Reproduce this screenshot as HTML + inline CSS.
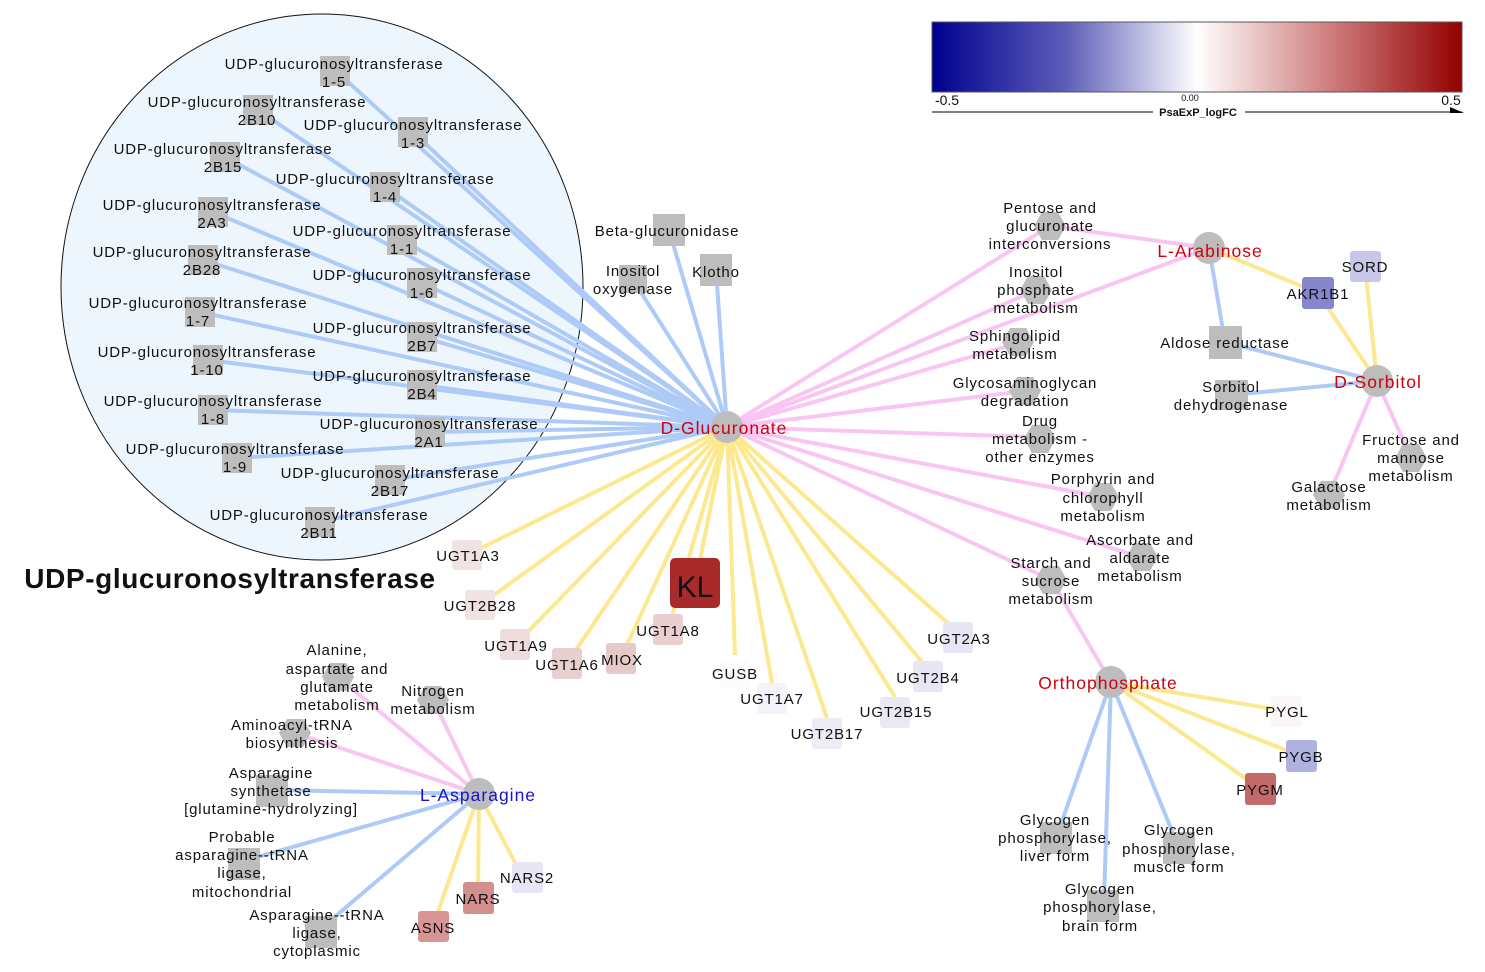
<!DOCTYPE html>
<html><head><meta charset="utf-8"><style>
html,body{margin:0;padding:0;background:#fff;}
svg{display:block;}
text{font-family:"Liberation Sans",sans-serif;font-size:15px;fill:#111;text-anchor:middle;letter-spacing:0.85px;}
.b line{stroke:#aecbf7;stroke-width:4;}
.y line{stroke:#fde890;stroke-width:4;}
.p line{stroke:#f9c6f2;stroke-width:4;}
.sq{fill:#bdbdbd;}
.red{fill:#d00010;font-size:17.5px;letter-spacing:1px;}
.blu{fill:#1a10d0;font-size:17.5px;letter-spacing:1px;}
</style></head><body>
<svg width="1485" height="972" viewBox="0 0 1485 972" xmlns="http://www.w3.org/2000/svg">
<defs>
<linearGradient id="cb" x1="0" x2="1" y1="0" y2="0">
<stop offset="0" stop-color="#00008f"/><stop offset="0.25" stop-color="#5c5cb8"/><stop offset="0.5" stop-color="#ffffff"/><stop offset="0.75" stop-color="#cf7e7e"/><stop offset="1" stop-color="#930000"/>
</linearGradient>
<polygon id="hx" points="16,0 8,14 -8,14 -16,0 -8,-14 8,-14" fill="#bdbdbd"/>
</defs>

<rect x="932" y="22" width="530" height="70" fill="url(#cb)" stroke="#555" stroke-width="1"/>
<text x="947" y="105" style="font-size:14px;letter-spacing:0">-0.5</text>
<text x="1190" y="101" style="font-size:9px;letter-spacing:0">0.00</text>
<text x="1451" y="105" style="font-size:14px;letter-spacing:0">0.5</text>
<line x1="932" y1="112" x2="1153" y2="112" stroke="#000"/>
<line x1="1245" y1="112" x2="1462" y2="112" stroke="#000"/>
<polygon points="1450,107 1464,113 1450,113" fill="#000"/>
<text x="1198" y="116" style="font-size:11px;font-weight:bold;letter-spacing:0">PsaExP_logFC</text>

<ellipse cx="322" cy="287" rx="261" ry="273" fill="#eef6fd" stroke="#111" stroke-width="1"/>
<text x="230" y="588" style="font-size:28px;font-weight:bold;letter-spacing:0.6px">UDP-glucuronosyltransferase</text>

<g class="b">
<line x1="727" y1="427" x2="335" y2="70"/><line x1="727" y1="427" x2="258" y2="110"/>
<line x1="727" y1="427" x2="413" y2="132"/><line x1="727" y1="427" x2="225" y2="157"/>
<line x1="727" y1="427" x2="385" y2="187"/><line x1="727" y1="427" x2="213" y2="212"/>
<line x1="727" y1="427" x2="402" y2="240"/><line x1="727" y1="427" x2="203" y2="260"/>
<line x1="727" y1="427" x2="422" y2="283"/><line x1="727" y1="427" x2="200" y2="312"/>
<line x1="727" y1="427" x2="422" y2="337"/><line x1="727" y1="427" x2="208" y2="360"/>
<line x1="727" y1="427" x2="422" y2="385"/><line x1="727" y1="427" x2="213" y2="410"/>
<line x1="727" y1="427" x2="430" y2="432"/><line x1="727" y1="427" x2="237" y2="458"/>
<line x1="727" y1="427" x2="390" y2="480"/><line x1="727" y1="427" x2="320" y2="522"/>
<line x1="727" y1="427" x2="669" y2="230"/><line x1="727" y1="427" x2="633" y2="280"/>
<line x1="727" y1="427" x2="716" y2="270"/>
<line x1="1209" y1="248" x2="1225" y2="342"/><line x1="1377" y1="381" x2="1225" y2="342"/>
<line x1="1377" y1="381" x2="1231" y2="395"/>
<line x1="1111" y1="682" x2="1056" y2="838"/><line x1="1111" y1="682" x2="1179" y2="848"/>
<line x1="1111" y1="682" x2="1104" y2="900"/>
<line x1="479" y1="794" x2="271" y2="790"/><line x1="479" y1="794" x2="240" y2="862"/>
<line x1="479" y1="794" x2="317" y2="932"/>
</g>
<g class="y">
<line x1="727" y1="427" x2="467" y2="555"/><line x1="727" y1="427" x2="480" y2="605"/>
<line x1="727" y1="427" x2="515" y2="645"/><line x1="727" y1="427" x2="567" y2="663"/>
<line x1="727" y1="427" x2="621" y2="658"/><line x1="727" y1="427" x2="668" y2="629"/>
<line x1="727" y1="427" x2="695" y2="584"/><line x1="727" y1="427" x2="735" y2="655"/>
<line x1="727" y1="427" x2="772" y2="683"/><line x1="727" y1="427" x2="827" y2="718"/>
<line x1="727" y1="427" x2="895" y2="697"/><line x1="727" y1="427" x2="922" y2="662"/>
<line x1="727" y1="427" x2="950" y2="625"/>
<line x1="1209" y1="248" x2="1318" y2="293"/><line x1="1377" y1="381" x2="1318" y2="293"/>
<line x1="1377" y1="381" x2="1365" y2="266"/>
<line x1="1111" y1="682" x2="1286" y2="711"/><line x1="1111" y1="682" x2="1301" y2="756"/>
<line x1="1111" y1="682" x2="1260" y2="789"/>
<line x1="479" y1="794" x2="478" y2="897"/><line x1="479" y1="794" x2="433" y2="926"/>
<line x1="479" y1="794" x2="520" y2="872"/>
</g>
<g class="p">
<line x1="727" y1="427" x2="1050" y2="226"/><line x1="727" y1="427" x2="1036" y2="290"/>
<line x1="727" y1="427" x2="1015" y2="344"/><line x1="727" y1="427" x2="1025" y2="391"/>
<line x1="727" y1="427" x2="1035" y2="437"/><line x1="727" y1="427" x2="1103" y2="497"/>
<line x1="727" y1="427" x2="1140" y2="557"/><line x1="727" y1="427" x2="1051" y2="580"/>
<line x1="727" y1="427" x2="1209" y2="248"/><line x1="1050" y1="226" x2="1209" y2="248"/>
<line x1="1051" y1="580" x2="1111" y2="682"/>
<line x1="1377" y1="381" x2="1411" y2="458"/><line x1="1377" y1="381" x2="1329" y2="495"/>
<line x1="479" y1="794" x2="338" y2="677"/><line x1="479" y1="794" x2="433" y2="700"/>
<line x1="479" y1="794" x2="295" y2="733"/>
</g>

<g class="sq">
<rect x="320" y="56" width="30" height="30"/><rect x="243" y="95" width="30" height="30"/>
<rect x="398" y="117" width="30" height="30"/><rect x="210" y="142" width="30" height="30"/>
<rect x="370" y="172" width="30" height="30"/><rect x="198" y="197" width="30" height="30"/>
<rect x="387" y="225" width="30" height="30"/><rect x="188" y="245" width="30" height="30"/>
<rect x="407" y="268" width="30" height="30"/><rect x="185" y="297" width="30" height="30"/>
<rect x="407" y="322" width="30" height="30"/><rect x="193" y="345" width="30" height="30"/>
<rect x="407" y="370" width="30" height="30"/><rect x="198" y="395" width="30" height="30"/>
<rect x="415" y="417" width="30" height="30"/><rect x="222" y="443" width="30" height="30"/>
<rect x="375" y="465" width="30" height="30"/><rect x="305" y="507" width="30" height="30"/>
<rect x="653" y="214" width="32" height="32"/><rect x="619" y="265" width="28" height="28"/>
<rect x="700" y="254" width="32" height="32"/>
<rect x="1209" y="326" width="33" height="33"/><rect x="1215" y="380" width="33" height="30"/>
<rect x="1040" y="822" width="32" height="32"/><rect x="1163" y="832" width="32" height="32"/>
<rect x="1087" y="890" width="32" height="32"/>
<rect x="256" y="775" width="32" height="32"/><rect x="228" y="848" width="32" height="32"/>
<rect x="305" y="916" width="32" height="32"/>
</g>
<g>
<text x="334" y="69">UDP-glucuronosyltransferase</text><text x="334" y="87">1-5</text>
<text x="257" y="107">UDP-glucuronosyltransferase</text><text x="257" y="125">2B10</text>
<text x="413" y="130">UDP-glucuronosyltransferase</text><text x="413" y="148">1-3</text>
<text x="223" y="154">UDP-glucuronosyltransferase</text><text x="223" y="172">2B15</text>
<text x="385" y="184">UDP-glucuronosyltransferase</text><text x="385" y="202">1-4</text>
<text x="212" y="210">UDP-glucuronosyltransferase</text><text x="212" y="228">2A3</text>
<text x="402" y="236">UDP-glucuronosyltransferase</text><text x="402" y="254">1-1</text>
<text x="202" y="257">UDP-glucuronosyltransferase</text><text x="202" y="275">2B28</text>
<text x="422" y="280">UDP-glucuronosyltransferase</text><text x="422" y="298">1-6</text>
<text x="198" y="308">UDP-glucuronosyltransferase</text><text x="198" y="326">1-7</text>
<text x="422" y="333">UDP-glucuronosyltransferase</text><text x="422" y="351">2B7</text>
<text x="207" y="357">UDP-glucuronosyltransferase</text><text x="207" y="375">1-10</text>
<text x="422" y="381">UDP-glucuronosyltransferase</text><text x="422" y="399">2B4</text>
<text x="213" y="406">UDP-glucuronosyltransferase</text><text x="213" y="424">1-8</text>
<text x="429" y="429">UDP-glucuronosyltransferase</text><text x="429" y="447">2A1</text>
<text x="235" y="454">UDP-glucuronosyltransferase</text><text x="235" y="472">1-9</text>
<text x="390" y="478">UDP-glucuronosyltransferase</text><text x="390" y="496">2B17</text>
<text x="319" y="520">UDP-glucuronosyltransferase</text><text x="319" y="538">2B11</text>
<text x="667" y="236">Beta-glucuronidase</text>
<text x="633" y="276">Inositol</text><text x="633" y="294">oxygenase</text>
<text x="716" y="277">Klotho</text>
<text x="1225" y="348">Aldose reductase</text>
<text x="1231" y="392">Sorbitol</text><text x="1231" y="410">dehydrogenase</text>
<text x="1055" y="825">Glycogen</text><text x="1055" y="843">phosphorylase,</text><text x="1055" y="861">liver form</text>
<text x="1179" y="835">Glycogen</text><text x="1179" y="854">phosphorylase,</text><text x="1179" y="872">muscle form</text>
<text x="1100" y="894">Glycogen</text><text x="1100" y="912">phosphorylase,</text><text x="1100" y="931">brain form</text>
<text x="271" y="778">Asparagine</text><text x="271" y="796">synthetase</text><text x="271" y="814">[glutamine-hydrolyzing]</text>
<text x="242" y="842">Probable</text><text x="242" y="860">asparagine--tRNA</text><text x="242" y="878">ligase,</text><text x="242" y="897">mitochondrial</text>
<text x="317" y="920">Asparagine--tRNA</text><text x="317" y="938">ligase,</text><text x="317" y="956">cytoplasmic</text>
</g>

<use href="#hx" x="1050" y="226"/><use href="#hx" x="1036" y="290"/><use href="#hx" x="1018" y="342"/>
<use href="#hx" x="1025" y="391"/><use href="#hx" x="1040" y="439"/><use href="#hx" x="1103" y="497"/>
<use href="#hx" x="1142" y="557"/><use href="#hx" x="1051" y="580"/>
<use href="#hx" x="1411" y="458"/><use href="#hx" x="1329" y="495"/>
<use href="#hx" x="338" y="677"/><use href="#hx" x="433" y="700"/><use href="#hx" x="295" y="733"/>
<g>
<text x="1050" y="213">Pentose and</text><text x="1050" y="231">glucuronate</text><text x="1050" y="249">interconversions</text>
<text x="1036" y="277">Inositol</text><text x="1036" y="295">phosphate</text><text x="1036" y="313">metabolism</text>
<text x="1015" y="341">Sphingolipid</text><text x="1015" y="359">metabolism</text>
<text x="1025" y="388">Glycosaminoglycan</text><text x="1025" y="406">degradation</text>
<text x="1040" y="426">Drug</text><text x="1040" y="444">metabolism -</text><text x="1040" y="462">other enzymes</text>
<text x="1103" y="484">Porphyrin and</text><text x="1103" y="503">chlorophyll</text><text x="1103" y="521">metabolism</text>
<text x="1140" y="545">Ascorbate and</text><text x="1140" y="563">aldarate</text><text x="1140" y="581">metabolism</text>
<text x="1051" y="568">Starch and</text><text x="1051" y="586">sucrose</text><text x="1051" y="604">metabolism</text>
<text x="1411" y="445">Fructose and</text><text x="1411" y="463">mannose</text><text x="1411" y="481">metabolism</text>
<text x="1329" y="492">Galactose</text><text x="1329" y="510">metabolism</text>
<text x="337" y="655">Alanine,</text><text x="337" y="674">aspartate and</text><text x="337" y="692">glutamate</text><text x="337" y="710">metabolism</text>
<text x="433" y="696">Nitrogen</text><text x="433" y="714">metabolism</text>
<text x="292" y="730">Aminoacyl-tRNA</text><text x="292" y="748">biosynthesis</text>
</g>

<g>
<rect x="452" y="540" width="30" height="30" rx="3" fill="#f2e3e3"/>
<rect x="465" y="590" width="30" height="30" rx="3" fill="#f2e3e3"/>
<rect x="500" y="629" width="30" height="31" rx="3" fill="#efdcdc"/>
<rect x="552" y="648" width="30" height="31" rx="3" fill="#e9cfcf"/>
<rect x="606" y="643" width="30" height="31" rx="3" fill="#e6caca"/>
<rect x="653" y="614" width="30" height="31" rx="3" fill="#e9cfcf"/>
<rect x="670" y="558" width="50" height="50" rx="5" fill="#a82a2a"/>
<rect x="720" y="658" width="30" height="30" rx="3" fill="#fdfcfd"/>
<rect x="757" y="683" width="30" height="31" rx="3" fill="#f4f3fa"/>
<rect x="812" y="718" width="30" height="31" rx="3" fill="#ececf6"/>
<rect x="880" y="697" width="30" height="31" rx="3" fill="#e9e9f4"/>
<rect x="913" y="661" width="30" height="31" rx="3" fill="#e7e7f4"/>
<rect x="943" y="622" width="30" height="31" rx="3" fill="#e6e6f4"/>
<rect x="1350" y="251" width="31" height="31" rx="3" fill="#c7c7ea"/>
<rect x="1302" y="277" width="32" height="32" rx="3" fill="#8686cf"/>
<rect x="1271" y="696" width="31" height="31" rx="3" fill="#fcf7f7"/>
<rect x="1286" y="740" width="31" height="32" rx="3" fill="#b1b1df"/>
<rect x="1245" y="773" width="31" height="32" rx="3" fill="#c26a6a"/>
<rect x="512" y="862" width="31" height="31" rx="3" fill="#e6e6f4"/>
<rect x="463" y="882" width="31" height="32" rx="3" fill="#d38e8e"/>
<rect x="418" y="911" width="31" height="31" rx="3" fill="#d79595"/>
<text x="468" y="561">UGT1A3</text><text x="480" y="611">UGT2B28</text>
<text x="516" y="651">UGT1A9</text><text x="567" y="670">UGT1A6</text>
<text x="622" y="665">MIOX</text><text x="668" y="636">UGT1A8</text>
<text x="695" y="597" style="font-size:30px;letter-spacing:0">KL</text>
<text x="735" y="679">GUSB</text><text x="772" y="704">UGT1A7</text>
<text x="827" y="739">UGT2B17</text><text x="896" y="717">UGT2B15</text>
<text x="928" y="683">UGT2B4</text><text x="959" y="644">UGT2A3</text>
<text x="1365" y="272">SORD</text><text x="1318" y="299">AKR1B1</text>
<text x="1287" y="717">PYGL</text><text x="1301" y="762">PYGB</text><text x="1260" y="795">PYGM</text>
<text x="527" y="883">NARS2</text><text x="478" y="904">NARS</text><text x="433" y="933">ASNS</text>
</g>

<circle cx="727" cy="427" r="16" fill="#bdbdbd"/>
<circle cx="1209" cy="248" r="16" fill="#bdbdbd"/>
<circle cx="1377" cy="381" r="16" fill="#bdbdbd"/>
<circle cx="1111" cy="682" r="16" fill="#bdbdbd"/>
<circle cx="479" cy="794" r="16" fill="#bdbdbd"/>
<text class="red" x="724" y="434">D-Glucuronate</text>
<text class="red" x="1210" y="257">L-Arabinose</text>
<text class="red" x="1378" y="388">D-Sorbitol</text>
<text class="red" x="1108" y="689">Orthophosphate</text>
<text class="blu" x="478" y="801">L-Asparagine</text>
</svg>
</body></html>
